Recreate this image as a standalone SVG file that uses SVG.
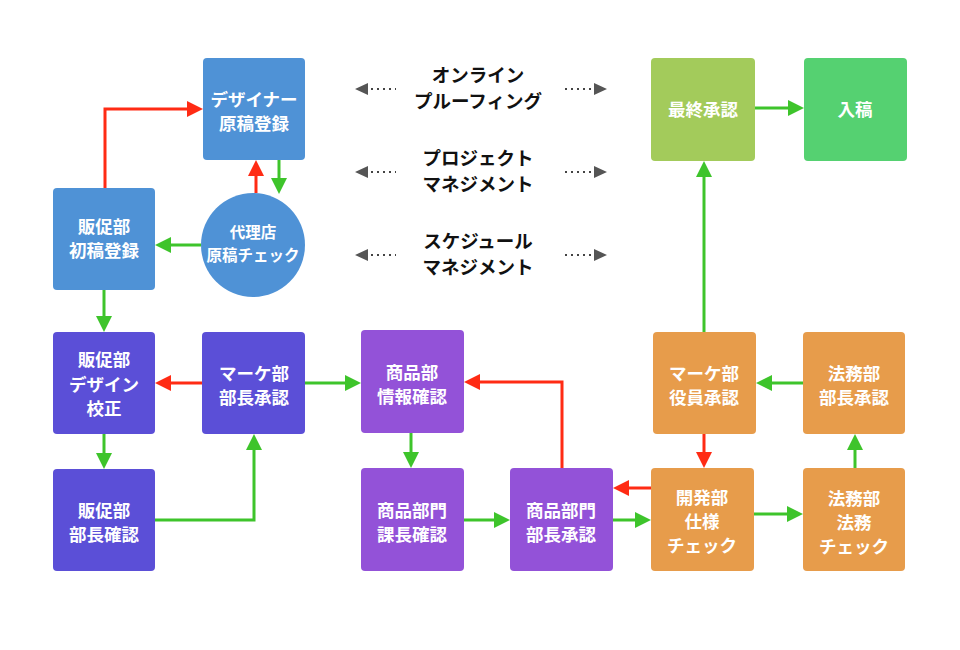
<svg xmlns="http://www.w3.org/2000/svg" width="960" height="650" viewBox="0 0 960 650">
<defs>
<style>
.n text{font-family:"Noto Sans CJK JP","Noto Sans",sans-serif;font-weight:bold;font-size:17.5px;fill:#fff;text-anchor:middle;dominant-baseline:central}
.n text.s{font-size:15.5px}
.lbl{font-family:"Noto Sans CJK JP","Noto Sans",sans-serif;font-weight:bold;font-size:18.5px;fill:#111;text-anchor:middle;dominant-baseline:central}
.blue{fill:#4F92D6}
.ind{fill:#5B4FD7}
.pur{fill:#9352D8}
.org{fill:#E79C4B}
.lime{fill:#A3CB5B}
.grn{fill:#55D171}
.g{stroke:#3EC42B;stroke-width:3;fill:none;marker-end:url(#ag)}
.r{stroke:#FF2B14;stroke-width:3;fill:none;marker-end:url(#ar)}
.d{stroke:#444;stroke-width:2;stroke-dasharray:2 4;fill:none}
.tri{fill:#555}
</style>
<marker id="ag" markerUnits="userSpaceOnUse" markerWidth="17" markerHeight="17" refX="12" refY="8" orient="auto">
<path d="M0,0 L16,8 L0,16 Z" fill="#3EC42B"/>
</marker>
<marker id="ar" markerUnits="userSpaceOnUse" markerWidth="17" markerHeight="17" refX="12" refY="8" orient="auto">
<path d="M0,0 L16,8 L0,16 Z" fill="#FF2B14"/>
</marker>
</defs>
<rect width="960" height="650" fill="#fff"/>

<g id="connectors">
<path class="r" d="M105,188 V109 H199"/>
<path class="r" d="M256,193 V164"/>
<path class="g" d="M279,160 V190"/>
<path class="g" d="M201,245 H159"/>
<path class="g" d="M104,290 V328"/>
<path class="r" d="M202,383 H159"/>
<path class="g" d="M104,434 V465"/>
<path class="g" d="M155,520 H254 V438"/>
<path class="g" d="M305,383 H357"/>
<path class="g" d="M411,433 V464"/>
<path class="g" d="M464,520 H506"/>
<path class="r" d="M562,468 V382 H468"/>
<path class="g" d="M613,520 H647"/>
<path class="r" d="M651,488 H617"/>
<path class="r" d="M704,434 V464"/>
<path class="g" d="M754,514 H799"/>
<path class="g" d="M855,468 V438"/>
<path class="g" d="M803,383 H760"/>
<path class="g" d="M704,332 V165"/>
<path class="g" d="M755,108 H800"/>
</g>

<g id="sideArrows">
<path class="d" d="M371,89 H396 M371,172 H396 M371,255 H396 M565,89 H592 M565,172 H592 M565,255 H592"/>
<path class="tri" d="M355,89 L368,83 L368,95 Z M355,172 L368,166 L368,178 Z M355,255 L368,249 L368,261 Z"/>
<path class="tri" d="M607,89 L594,83 L594,95 Z M607,172 L594,166 L594,178 Z M607,255 L594,249 L594,261 Z"/>
</g>

<g id="labels">
<text class="lbl" x="478" y="74">オンライン<tspan x="478" dy="25.5">プルーフィング</tspan></text>
<text class="lbl" x="478" y="157">プロジェクト<tspan x="478" dy="25.5">マネジメント</tspan></text>
<text class="lbl" x="478" y="240">スケジュール<tspan x="478" dy="25.5">マネジメント</tspan></text>
</g>

<g id="designer" class="n"><rect class="blue" x="203" y="58" width="102" height="102" rx="4"/><text x="254" y="98">デザイナー<tspan x="254" dy="24">原稿登録</tspan></text></g>
<g id="hansoku-shoko" class="n"><rect class="blue" x="53" y="188" width="102" height="102" rx="4"/><text x="104" y="225">販促部<tspan x="104" dy="24">初稿登録</tspan></text></g>
<g id="dairiten" class="n"><circle class="blue" cx="253" cy="245" r="52"/><text class="s" x="253" y="231">代理店<tspan x="253" dy="23">原稿チェック</tspan></text></g>
<g id="hansoku-design" class="n"><rect class="ind" x="53" y="332" width="102" height="102" rx="4"/><text x="104" y="358">販促部<tspan x="104" dy="24.5">デザイン</tspan><tspan x="104" dy="24.5">校正</tspan></text></g>
<g id="marke-bucho" class="n"><rect class="ind" x="202" y="332" width="103" height="102" rx="4"/><text x="254" y="372">マーケ部<tspan x="254" dy="24">部長承認</tspan></text></g>
<g id="hansoku-bucho" class="n"><rect class="ind" x="53" y="469" width="102" height="102" rx="4"/><text x="104" y="509">販促部<tspan x="104" dy="24">部長確認</tspan></text></g>
<g id="shohin-joho" class="n"><rect class="pur" x="361" y="330" width="103" height="103" rx="4"/><text x="412" y="371">商品部<tspan x="412" dy="24">情報確認</tspan></text></g>
<g id="shohin-kacho" class="n"><rect class="pur" x="361" y="468" width="103" height="103" rx="4"/><text x="412" y="509">商品部門<tspan x="412" dy="24">課長確認</tspan></text></g>
<g id="shohin-bucho" class="n"><rect class="pur" x="510" y="468" width="103" height="103" rx="4"/><text x="561" y="509">商品部門<tspan x="561" dy="24">部長承認</tspan></text></g>
<g id="marke-yakuin" class="n"><rect class="org" x="653" y="332" width="103" height="102" rx="4"/><text x="704" y="372">マーケ部<tspan x="704" dy="24">役員承認</tspan></text></g>
<g id="homu-bucho" class="n"><rect class="org" x="803" y="332" width="102" height="102" rx="4"/><text x="854" y="372">法務部<tspan x="854" dy="24">部長承認</tspan></text></g>
<g id="kaihatsu" class="n"><rect class="org" x="651" y="468" width="103" height="103" rx="4"/><text x="702" y="496">開発部<tspan x="702" dy="24">仕様</tspan><tspan x="702" dy="24">チェック</tspan></text></g>
<g id="homu-check" class="n"><rect class="org" x="803" y="468" width="102" height="103" rx="4"/><text x="854" y="497">法務部<tspan x="854" dy="24">法務</tspan><tspan x="854" dy="24">チェック</tspan></text></g>
<g id="saishu" class="n"><rect class="lime" x="651" y="58" width="104" height="103" rx="4"/><text x="703" y="108">最終承認</text></g>
<g id="nyuko" class="n"><rect class="grn" x="804" y="58" width="103" height="103" rx="4"/><text x="855" y="108">入稿</text></g>
</svg>
